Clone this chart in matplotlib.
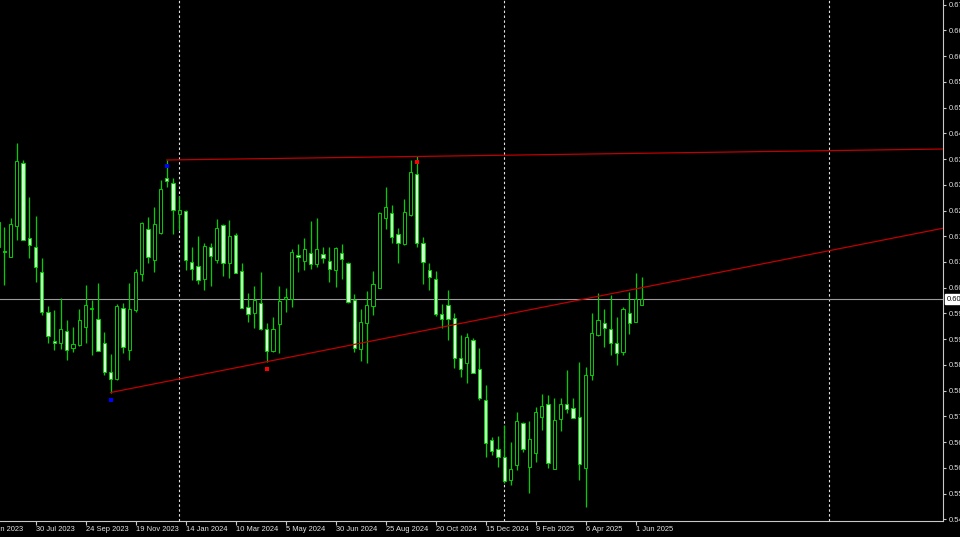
import numpy as np
import pandas as pd
import matplotlib
matplotlib.use("Agg")
import matplotlib.pyplot as plt

plt.rcParams['font.family'] = ['Liberation Sans', 'DejaVu Sans']

# ---- weekly OHLC, first bar 18 Jun 2023, last bar 8 Jun 2025 ----------
first_bar = "2023-06-18"
opens = [
    0.61573, 0.61473, 0.61324, 0.62095, 0.63662, 0.61797, 0.61580, 0.60951, 0.59963, 0.59242,
    0.59177, 0.59491, 0.59053, 0.59135, 0.59590, 0.60030, 0.59782, 0.59192, 0.58456, 0.58282,
    0.60048, 0.59011, 0.60006, 0.60901, 0.62020, 0.61249, 0.61913, 0.63282, 0.63157, 0.62394,
    0.62468, 0.61192, 0.61100, 0.60769, 0.61565, 0.61249, 0.62112, 0.61182, 0.61864, 0.60976,
    0.60073, 0.59923, 0.60187, 0.59525, 0.58986, 0.59650, 0.60272, 0.60272, 0.61374, 0.61224,
    0.61416, 0.61142, 0.61391, 0.61232, 0.61000, 0.61431, 0.61167, 0.60254, 0.59028, 0.59675,
    0.60105, 0.60545, 0.62302, 0.62426, 0.61889, 0.61640, 0.62361, 0.63389, 0.61665, 0.61000,
    0.60769, 0.59906, 0.60130, 0.59799, 0.58804, 0.58695, 0.59259, 0.58530, 0.57767, 0.56772,
    0.56540, 0.56356, 0.55777, 0.56150, 0.57202, 0.56108, 0.56441, 0.57336, 0.57667, 0.56050,
    0.57286, 0.57667, 0.57560, 0.57336, 0.56067, 0.58389, 0.59384, 0.59675, 0.59533, 0.59177,
    0.58968, 0.59923, 0.59715, 0.60130,
]
highs = [
    0.62319, 0.62070, 0.62294, 0.64160, 0.63737, 0.62824, 0.62344, 0.61299, 0.60112, 0.60006,
    0.60304, 0.59757, 0.59590, 0.60030, 0.60627, 0.60254, 0.60684, 0.59466, 0.58911, 0.60155,
    0.60172, 0.60684, 0.61018, 0.62202, 0.62311, 0.62575, 0.63239, 0.63737, 0.63282, 0.62849,
    0.62493, 0.61580, 0.61846, 0.61680, 0.61665, 0.62269, 0.62145, 0.62244, 0.61928, 0.61182,
    0.60436, 0.60602, 0.60943, 0.59690, 0.59839, 0.60602, 0.60545, 0.61515, 0.61647, 0.61789,
    0.62219, 0.62302, 0.61580, 0.61565, 0.61580, 0.61647, 0.61207, 0.60404, 0.60023, 0.60486,
    0.60976, 0.62451, 0.63058, 0.62617, 0.62038, 0.62759, 0.63737, 0.63844, 0.61814, 0.61182,
    0.60976, 0.60155, 0.60503, 0.59923, 0.59384, 0.59441, 0.59301, 0.59053, 0.58140, 0.56839,
    0.56871, 0.57145, 0.56729, 0.57476, 0.57227, 0.57252, 0.57600, 0.57916, 0.57891, 0.57809,
    0.57809, 0.58513, 0.57824, 0.58720, 0.58580, 0.59923, 0.60421, 0.60023, 0.60379, 0.59839,
    0.60088, 0.60461, 0.60933, 0.60834,
]
lows = [
    0.61548, 0.60627, 0.61324, 0.61747, 0.61747, 0.61299, 0.60709, 0.59881, 0.59185, 0.59011,
    0.59036, 0.58762, 0.58968, 0.59110, 0.59185, 0.58886, 0.58986, 0.58389, 0.57953, 0.58264,
    0.58943, 0.58762, 0.59963, 0.60734, 0.61167, 0.60958, 0.61896, 0.63073, 0.61896, 0.61995,
    0.61000, 0.60752, 0.60652, 0.60503, 0.60602, 0.61167, 0.60851, 0.60794, 0.60918, 0.60048,
    0.59715, 0.59550, 0.59508, 0.58720, 0.58968, 0.58928, 0.59963, 0.60088, 0.60958, 0.61000,
    0.61018, 0.61067, 0.61167, 0.60694, 0.60585, 0.60777, 0.60187, 0.58968, 0.58744, 0.58680,
    0.59881, 0.60545, 0.62020, 0.61665, 0.61167, 0.61622, 0.62344, 0.61565, 0.60652, 0.60503,
    0.59864, 0.59565, 0.59259, 0.58555, 0.58346, 0.58182, 0.58431, 0.57767, 0.56341, 0.56399,
    0.56108, 0.55695, 0.55652, 0.56025, 0.56481, 0.55446, 0.56232, 0.57020, 0.56067, 0.56043,
    0.56995, 0.57436, 0.57311, 0.55777, 0.55113, 0.58264, 0.59359, 0.59093, 0.58886, 0.58637,
    0.58886, 0.59401, 0.59715, 0.60130,
]
closes = [
    0.62195, 0.61448, 0.62145, 0.63712, 0.61747, 0.61622, 0.61083, 0.59963, 0.59366, 0.59192,
    0.59525, 0.59011, 0.59152, 0.59757, 0.60130, 0.60055, 0.58993, 0.58456, 0.58282, 0.60112,
    0.59078, 0.60030, 0.60943, 0.62162, 0.61316, 0.62137, 0.63008, 0.63222, 0.62493, 0.62493,
    0.61249, 0.61025, 0.60752, 0.61605, 0.61349, 0.62053, 0.61167, 0.61846, 0.60933, 0.60063,
    0.59898, 0.60254, 0.59525, 0.58993, 0.59525, 0.60229, 0.60336, 0.61456, 0.61316, 0.61530,
    0.61142, 0.61523, 0.61291, 0.61025, 0.61540, 0.61282, 0.60212, 0.59053, 0.59715, 0.60122,
    0.60645, 0.62411, 0.62560, 0.61829, 0.61680, 0.62436, 0.63446, 0.61665, 0.61192, 0.60834,
    0.59906, 0.59782, 0.59774, 0.58804, 0.58530, 0.59326, 0.58446, 0.57824, 0.56705, 0.56506,
    0.56341, 0.55759, 0.56043, 0.57244, 0.56540, 0.56789, 0.57461, 0.57617, 0.56207, 0.57269,
    0.57667, 0.57535, 0.57326, 0.56175, 0.58389, 0.59426, 0.59757, 0.59550, 0.59192, 0.58928,
    0.60023, 0.59690, 0.60272, 0.60272,
]
current_price = 0.60272

# trendlines: (anchor date, price) pairs, drawn as rays to the right
upper_line = [("2023-12-24", 0.63737), ("2024-09-29", 0.63825)]
lower_line = [("2023-10-22", 0.57953), ("2024-04-14", 0.58720)]
blue_marks = [("2023-10-22", 0.57767), ("2023-12-24", 0.63595)]
red_marks = [("2024-04-14", 0.58538), ("2024-09-29", 0.63680)]

tick_dates = ["2023-06-04", "2023-07-30", "2023-09-24", "2023-11-19", "2024-01-14",
              "2024-03-10", "2024-05-05", "2024-06-30", "2024-08-25", "2024-10-20",
              "2024-12-15", "2025-02-09", "2025-04-06", "2025-06-01"]
tick_text = ["4 Jun 2023", "30 Jul 2023", "24 Sep 2023", "19 Nov 2023", "14 Jan 2024",
             "10 Mar 2024", "5 May 2024", "30 Jun 2024", "25 Aug 2024", "20 Oct 2024",
             "15 Dec 2024", "9 Feb 2025", "6 Apr 2025", "1 Jun 2025"]
separator_dates = ["2024-01-07", "2025-01-05", "2026-01-04"]
price_ticks = [0.67600, 0.66960, 0.66320, 0.65680, 0.65040, 0.64400, 0.63760,
               0.63120, 0.62480, 0.61840, 0.61200, 0.60560, 0.59920, 0.59280,
               0.58640, 0.58000, 0.57360, 0.56720, 0.56080, 0.55440, 0.54800]

# ---- colours -----------------------------------------------------------
BG = "black"
GREEN = "#00d000"
BEAR_FILL = "#ccffcc"
AXIS = "#c8c8c8"
TEXT = "#e4e4e4"
TREND = "#c00000"
FS = 5.4

week0 = pd.Timestamp("2023-06-04")


def wk(d):
    return (pd.Timestamp(d) - week0).days / 7.0


x = np.array([wk(d) for d in pd.date_range(first_bar, periods=len(opens), freq="7D")])
o = np.array(opens); h = np.array(highs); l = np.array(lows); c = np.array(closes)
bull = c >= o

fig = plt.figure(figsize=(9.6, 5.37), dpi=100, facecolor=BG)
ax = fig.add_axes([0, 16 / 537, 943 / 960, 521 / 537])
ax.set_facecolor(BG)
ax.set_xlim(2.32, 153.2)
ax.set_ylim(0.54757, 0.67717)

# period separators (year)
for d in separator_dates:
    ax.axvline(wk(d), color="#e0e0e0", lw=0.8, ls=(0, (2.2, 2.2)), zorder=1)

# current price line
ax.axhline(current_price, color="#9a9a9a", lw=0.8, zorder=1)

# candles
ax.vlines(x, l, h, color=GREEN, lw=0.9, zorder=2)
body_lo = np.minimum(o, c)
body_h = np.maximum(np.abs(c - o), 0.00004)
ax.bar(x, body_h, bottom=body_lo, width=0.55,
       color=np.where(bull, BG, BEAR_FILL), edgecolor=GREEN, linewidth=0.7, zorder=3)

# trendlines as rays
x_end = ax.get_xlim()[1]
for (d1, p1), (d2, p2) in (upper_line, lower_line):
    x1, x2 = wk(d1), wk(d2)
    slope = (p2 - p1) / (x2 - x1)
    ax.plot([x1, x_end], [p1, p1 + slope * (x_end - x1)], color=TREND, lw=0.9, zorder=4)

for d, p in blue_marks:
    ax.plot(wk(d), p, "s", color="#0000ff", ms=2.8, mew=0, zorder=5)
for d, p in red_marks:
    ax.plot(wk(d), p, "s", color="#ff0000", ms=2.8, mew=0, zorder=5)

# axes look
for side in ("top", "left"):
    ax.spines[side].set_visible(False)
for side in ("right", "bottom"):
    ax.spines[side].set_color(AXIS)
    ax.spines[side].set_linewidth(0.8)

ax.yaxis.tick_right()
ax.set_yticks(price_ticks)
ax.set_yticklabels([f"{p:.5f}" for p in price_ticks])
ax.tick_params(axis="y", direction="out", length=2.5, width=0.8, color=AXIS,
               pad=1.6, labelsize=FS, labelcolor=TEXT)

tick_pos = [wk(d) for d in tick_dates]
ax.set_xticks([p for p in tick_pos if p >= ax.get_xlim()[0]])
ax.set_xticklabels([])
ax.tick_params(axis="x", direction="out", length=3, width=0.8, color=AXIS)
for p, t in zip(tick_pos, tick_text):
    ax.annotate(t, xy=(p, 0), xycoords=("data", "axes fraction"),
                xytext=(0.4, -3.4), textcoords="offset points",
                ha="left", va="top", fontsize=FS, color=TEXT, annotation_clip=False)

ax.annotate(f"{current_price:.5f}", xy=(1, current_price),
            xycoords=("axes fraction", "data"), xytext=(2.6, 0), textcoords="offset points",
            ha="left", va="center", fontsize=FS, color="black", annotation_clip=False,
            bbox=dict(boxstyle="square,pad=0.2", fc="white", ec="white"), zorder=6)

fig.savefig("out.png", dpi=100, facecolor=BG)
